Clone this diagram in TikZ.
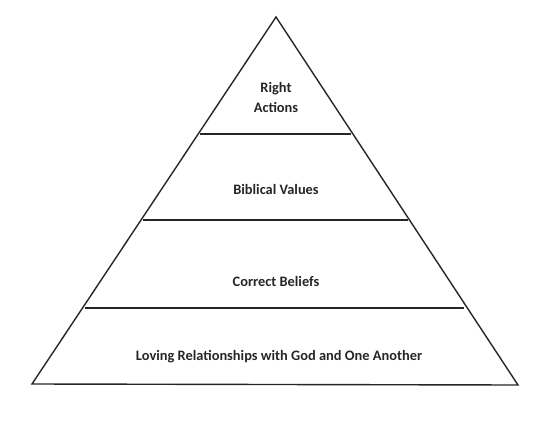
\documentclass[tikz,border=0pt]{standalone}
\usepackage{fontspec}
\setmainfont{Carlito}
\begin{document}
\begin{tikzpicture}[x=1pt,y=-1pt,
  edge/.style={draw=black!85, line width=1.4pt, line join=miter},
  tier/.style={draw=black!85, line width=1.4pt},
  lbl/.style={font=\bfseries\fontsize{14.4}{20}\selectfont, text=black!85, align=center, inner sep=0pt}]
\useasboundingbox (0,0) rectangle (545,422);
\coordinate (apex) at (276,17);
\coordinate (bl) at (32,384);
\coordinate (br) at (518,385);
\draw[edge] (bl) -- (apex) -- (br) -- cycle;
\coordinate (l1a) at (200,134); \coordinate (l1b) at (351,134);
\coordinate (l2a) at (143,220); \coordinate (l2b) at (408,220);
\coordinate (l3a) at (85,308); \coordinate (l3b) at (464,308);
\draw[tier] (l1a) -- (l1b);
\draw[tier] (l2a) -- (l2b);
\draw[tier] (l3a) -- (l3b);
\node[lbl] (t1) at (276,98) {Right\\Actions};
\node[lbl] (t2) at (276,190) {Biblical Values};
\node[lbl] (t3) at (276,281) {Correct Beliefs};
\node[lbl] (t4) at (279,357) {Loving Relationships with God and One Another};
\end{tikzpicture}
\end{document}
